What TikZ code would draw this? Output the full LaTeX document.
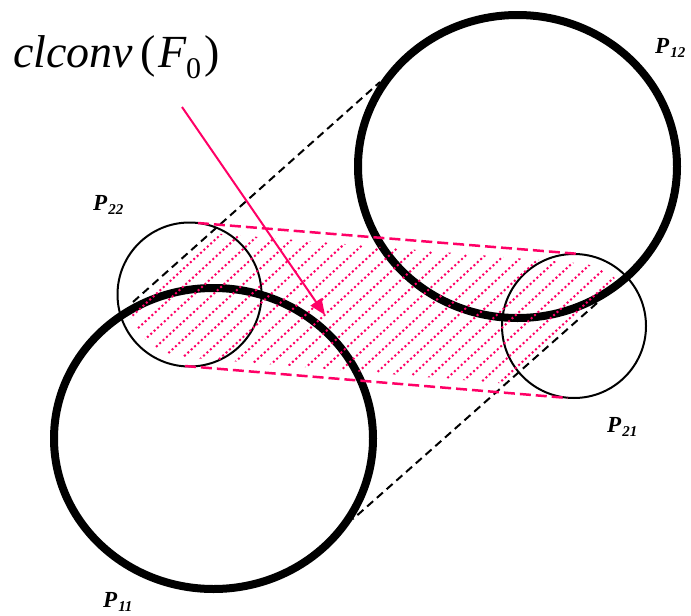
\documentclass[tikz,border=0pt]{standalone}
\usepackage{fontspec}
\setmainfont{Liberation Serif}
\usetikzlibrary{calc,arrows.meta}
\definecolor{hotpink}{RGB}{255,0,102}
\tikzset{
  thickring/.style={line width=8pt,black},
  thinring/.style={line width=2pt,black},
  blackdash/.style={line width=2pt,black,dash pattern=on 8pt off 5pt},
  pinkdash/.style={line width=2.5pt,hotpink,dash pattern=on 11pt off 5pt},
  hatchline/.style={line width=2pt,hotpink,dash pattern=on 2pt off 2.6pt},
  pinkarrow/.style={line width=2pt,hotpink,-{Triangle[length=16pt,width=13pt]}},
  plabel/.style={inner sep=0pt,anchor=base west,font=\fontsize{23}{26}\selectfont\bfseries\itshape},
}
\newcommand{\plab}[2]{#1\kern1pt\raisebox{-4.5pt}{\fontsize{15}{16}\selectfont #2}}
\begin{document}
\begin{tikzpicture}[x=1pt,y=1pt]
\useasboundingbox (0,0) rectangle (691,-616);
% centres
\coordinate (c11) at (213.5,-438.5);
\coordinate (c12) at (517.5,-166.5);
\coordinate (c22) at (189.5,-294.5);
\coordinate (c21) at (574,-326);
% big and small sets
\draw[thickring] (c11) ellipse [x radius=159.5,y radius=150.5];
\draw[thickring] (c12) ellipse [x radius=159.5,y radius=151.5];
\draw[thinring] (c22) circle [radius=72];
\draw[thinring] (c21) circle [radius=72];
% hatched convex hull
\begin{scope}
\clip ($(c21)+(85.3:63)$) arc[start angle=85.3,end angle=-94.7,radius=63]
  -- ($(c22)+(-94.7:63)$) arc[start angle=-94.7,end angle=-274.7,radius=63] -- cycle;
\coordinate (h0) at (130,-318);
\foreach \i in {0,...,23} {
  \draw[hatchline] ($(h0)+(\i*19.13,0)+(-160,-147.2)$) -- ++(320,294.4);
}
\end{scope}
% tangent lines of the big sets
\coordinate (t1a) at (133,-302);
\coordinate (t1b) at (380,-82);
\coordinate (t2a) at (597,-303);
\coordinate (t2b) at (353,-519);
\draw[blackdash] (t1a) -- (t1b);
\draw[blackdash] (t2a) -- (t2b);
% tangent lines of the small sets
\coordinate (s1a) at (198,-223);
\coordinate (s1b) at (580,-254);
\coordinate (s2a) at (185,-366);
\coordinate (s2b) at (568,-398);
\draw[pinkdash] (s1a) -- (s1b);
\draw[pinkdash] (s2a) -- (s2b);
% title and arrow
\node[inner sep=0pt,anchor=base west,font=\fontsize{46}{50}\selectfont] (title) at (13,-67)
  {\textit{clconv}\kern7pt(\kern3pt\textit{F}\kern-1pt\raisebox{-11pt}{\fontsize{30}{32}\selectfont 0}\kern3pt)};
\coordinate (arrstart) at (182,-107);
\coordinate (arrtip) at (325,-315);
\draw[pinkarrow] (arrstart) -- (arrtip);
% labels
\node[plabel] (l12) at (655,-53) {\plab{P}{12}};
\node[plabel] (l22) at (93,-210) {\plab{P}{22}};
\node[plabel] (l21) at (607,-432) {\plab{P}{21}};
\node[plabel] (l11) at (103,-607) {\plab{P}{11}};
\end{tikzpicture}
\end{document}
